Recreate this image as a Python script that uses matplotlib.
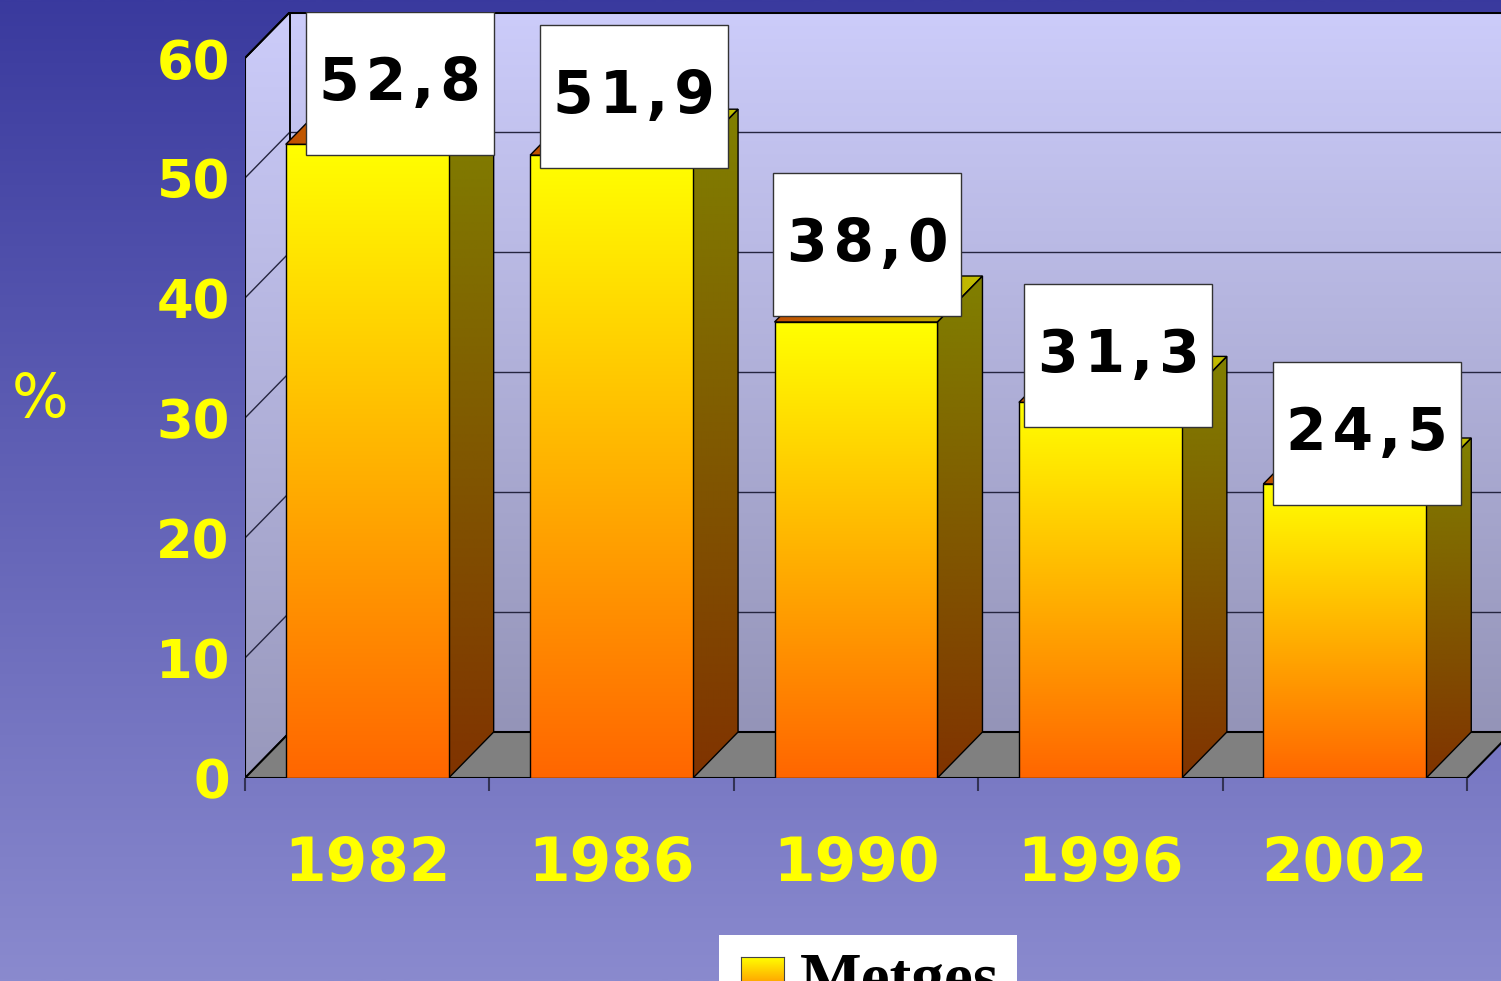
import numpy as np
import matplotlib
matplotlib.use("Agg")
import matplotlib.pyplot as plt
from matplotlib.patches import Polygon, Rectangle
from matplotlib.colors import to_rgb

# data
years = ["1982", "1986", "1990", "1996", "2002"]
metges = [52.8, 51.9, 38.0, 31.3, 24.5]
value_text = ["52,8", "51,9", "38,0", "31,3", "24,5"]
y_ticks = [0, 10, 20, 30, 40, 50, 60]
series_name = "Metges"

# layout of the value boxes (offset from the category start / bar top)
label_shift = [0.634, 0.592, 0.547, 0.574, 0.591]
label_lift = [5.1, 4.9, 6.5, 3.9, 4.2]

W, H = 1501, 981
DX = 45 / 244.4      # depth in category units
DY = 46 / 12.0       # depth in % units
YELLOW = "#FFFF00"


def grad(c0, c1, n=256, horizontal=False):
    a = np.array(to_rgb(c0))
    b = np.array(to_rgb(c1))
    t = np.linspace(0, 1, n)[:, None]
    g = a + (b - a) * t
    if horizontal:
        return g[None, :, :]
    return g[:, None, :]


def fill_grad(ax, verts, c_bottom, c_top, z, horizontal=False, ec="black", lw=1.0):
    verts = np.array(verts)
    x0, y0 = verts.min(axis=0)
    x1, y1 = verts.max(axis=0)
    poly = Polygon(verts, closed=True, fc="none", ec=ec, lw=lw, zorder=z + 0.1)
    ax.add_patch(poly)
    im = ax.imshow(grad(c_bottom, c_top, horizontal=horizontal), extent=[x0, x1, y0, y1],
                   origin="lower", aspect="auto", interpolation="bilinear", zorder=z)
    im.set_clip_path(poly)
    return im


fig = plt.figure(figsize=(W / 100, H / 100), dpi=100)

# background
bg = fig.add_axes([0, 0, 1, 1], zorder=-10)
bg.imshow(grad("#8A8ACE", "#3A3A9E"), extent=[0, 1, 0, 1], origin="lower",
          aspect="auto", interpolation="bilinear")
bg.set_axis_off()

ax = fig.add_axes([245 / W, (H - 778) / H, (1512 - 245) / W, (778 - 12) / H])
ax.patch.set_alpha(0)
for s in ax.spines.values():
    s.set_visible(False)

n = len(years)
top = max(y_ticks)

# walls and floor
fill_grad(ax, [(DX, DY), (n + DX, DY), (n + DX, top + DY), (DX, top + DY)],
          "#9494B8", "#CCCCFA", 1, lw=0)
fill_grad(ax, [(0, 0), (DX, DY), (DX, top + DY), (0, top)],
          "#9898BC", "#CCCCFA", 1, lw=1.2)
ax.add_patch(Polygon([(0, 0), (n, 0), (n + DX, DY), (DX, DY)], closed=True,
                     fc="#808080", ec="black", lw=1.5, zorder=2))

for v in y_ticks[1:]:
    ax.plot([DX, n + DX], [v + DY, v + DY], color="#252540", lw=1.0, zorder=1.5)
    ax.plot([0, DX], [v, v + DY], color="#252540", lw=1.0, zorder=1.5)
ax.plot([DX, n + DX], [top + DY, top + DY], color="black", lw=2.2, zorder=1.6)
ax.plot([0, DX], [top, top + DY], color="black", lw=1.5, zorder=1.6)
ax.plot([DX, DX], [DY, top + DY], color="black", lw=1.2, zorder=1.6)
ax.plot([0, 0], [0, top], color="black", lw=1.5, zorder=2.5)

# bars
bw = 2 / 3
for i, v in enumerate(metges):
    x0 = i + (1 - bw) / 2
    x1 = x0 + bw
    z = 3 + i
    fill_grad(ax, [(x1, 0), (x1 + DX, DY), (x1 + DX, v + DY), (x1, v)],
              "#803300", "#808000", z)
    fill_grad(ax, [(x0, v), (x1, v), (x1 + DX, v + DY), (x0 + DX, v + DY)],
              "#C04E00", "#C0C000", z, horizontal=True)
    fill_grad(ax, [(x0, 0), (x1, 0), (x1, v), (x0, v)],
              "#FF6600", "#FFFF00", z + 0.3)

# value boxes
bwid = 188 / 244.4
bhei = 143 / 12.0
for i, v in enumerate(metges):
    cx = i + label_shift[i]
    cy = v + label_lift[i]
    ax.add_patch(Rectangle((cx - bwid / 2, cy - bhei / 2), bwid, bhei,
                           fc="white", ec="#333333", lw=1.0, zorder=20))
    ax.text(cx, cy, "\u200a".join(value_text[i]), ha="center", va="center", fontsize=42,
            fontweight="bold", color="black", zorder=21)

ax.set_xlim(0, n + DX)
ax.set_ylim(0, top + DY)

ax.set_xticks(range(n + 1))
ax.set_xticklabels([])
ax.tick_params(axis="x", which="major", length=9, width=1.5, color="#333355", direction="out")
ax.set_xticks([i + 0.5 for i in range(n)], minor=True)
ax.set_xticklabels(years, minor=True)
ax.tick_params(axis="x", which="minor", length=0, pad=41, labelsize=43, labelcolor=YELLOW)
for t in ax.get_xticklabels(minor=True):
    t.set_fontweight("bold")

ax.set_yticks(y_ticks)
ax.set_yticklabels([str(t) for t in y_ticks])
ax.tick_params(axis="y", length=0, pad=11, labelsize=38, labelcolor=YELLOW)
for t in ax.get_yticklabels():
    t.set_fontweight("bold")

fig.text(40 / W, 1 - 400 / H, "%", ha="center", va="center", fontsize=43, color=YELLOW)

# legend (cut by the bottom edge, as in the source)
fig.patches.append(Rectangle((719 / W, 0), (1017 - 719) / W, (H - 935) / H,
                             transform=fig.transFigure, fc="white", ec="none", zorder=5))
lg = fig.add_axes([741 / W, -19 / H, 43 / W, 43 / H], zorder=6)
lg.imshow(grad("#FF6600", "#FFFF00"), extent=[0, 1, 0, 1], origin="lower",
          aspect="auto", interpolation="bilinear")
lg.set_xticks([])
lg.set_yticks([])
for s in lg.spines.values():
    s.set_color("#444444")
fig.text(800 / W, -17 / H, series_name, fontfamily="Liberation Serif", fontweight="bold",
         fontsize=47, va="baseline", ha="left", color="black", zorder=7)

fig.savefig("out.png", dpi=100)
